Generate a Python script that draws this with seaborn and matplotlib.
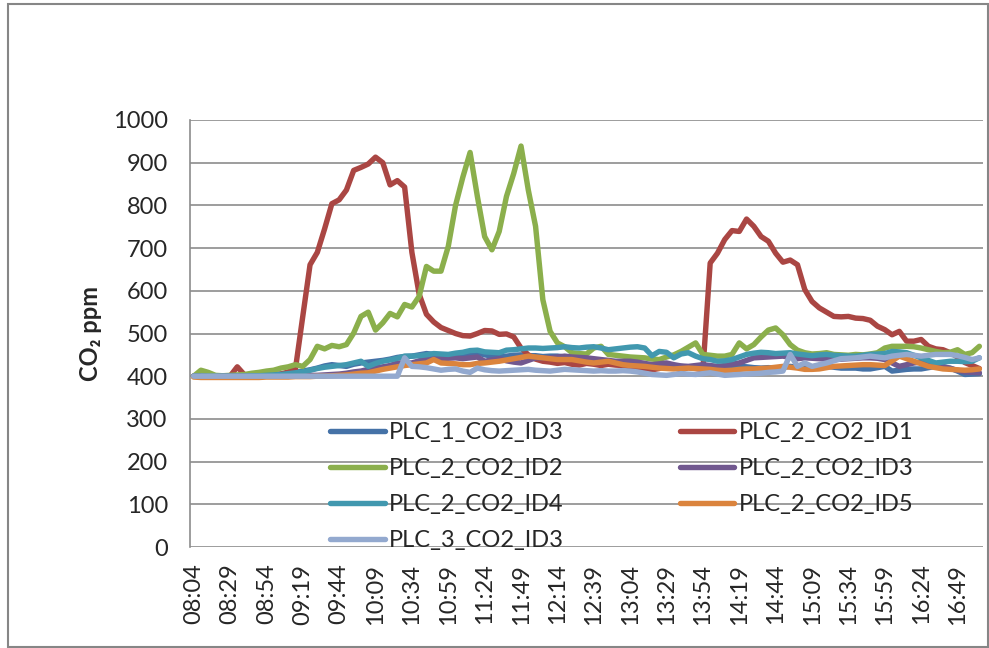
import matplotlib
matplotlib.use("Agg")
import matplotlib.pyplot as plt
from matplotlib.patches import Rectangle
import seaborn as sns
import numpy as np
import pandas as pd

# readings every 5 min, 08:04 .. 17:04
start = 8 * 60 + 4
times = ["%02d:%02d" % ((start + 5 * k) // 60, (start + 5 * k) % 60) for k in range(109)]

plc1_id3 = [400, 400, 400, 400, 400, 400, 400, 400, 401, 402, 403, 404, 405, 407, 409, 412, 415, 419, 424, 427,
            425, 423, 428, 431, 433, 435, 437, 440, 444, 446, 447, 450, 453, 451, 449, 448, 450, 451, 453, 455,
            450, 447, 446, 447, 449, 450, 448, 448, 446, 447, 447, 445, 443, 441, 439, 437, 434, 432, 431, 429,
            428, 426, 424, 423, 424, 423, 422, 423, 421, 420, 422, 420, 419, 421, 423, 423, 422, 420, 419, 420,
            419, 421, 423, 421, 419, 421, 423, 423, 421, 419, 419, 419, 417, 417, 420, 423, 412, 414, 416, 417,
            417, 420, 423, 421, 419, 412, 404, 405, 406]
plc2_id1 = [400, 399, 398, 398, 399, 400, 422, 403, 400, 401, 402, 403, 405, 410, 418, 540, 661, 690, 745, 804,
            813, 836, 882, 889, 897, 913, 900, 848, 858, 843, 690, 592, 545, 527, 514, 507, 500, 495, 494, 500,
            507, 506, 498, 499, 492, 466, 450, 440, 435, 433, 430, 432, 428, 426, 430, 428, 425, 428, 426, 425,
            422, 420, 418, 415, 418, 425, 420, 415, 420, 418, 415, 665, 688, 720, 741, 739, 768, 751, 727, 716,
            688, 667, 672, 661, 603, 575, 560, 550, 540, 539, 540, 536, 535, 531, 517, 509, 497, 505, 482, 482,
            486, 470, 464, 462, 455, 445, 432, 425, 418]
plc2_id2 = [400, 414, 409, 402, 401, 402, 403, 404, 407, 409, 412, 414, 419, 422, 427, 423, 439, 470, 464, 472,
            469, 474, 501, 540, 550, 508, 525, 547, 539, 568, 562, 587, 657, 646, 646, 704, 800, 866, 924, 821,
            727, 696, 739, 821, 875, 939, 836, 751, 579, 505, 478, 469, 455, 453, 452, 466, 470, 451, 449, 447,
            445, 444, 443, 440, 439, 445, 450, 458, 468, 478, 451, 449, 447, 447, 451, 478, 464, 474, 492, 508,
            513, 497, 474, 461, 455, 452, 453, 455, 451, 450, 449, 451, 450, 452, 455, 466, 470, 470, 470, 469,
            466, 462, 458, 455, 456, 462, 451, 455, 470]
plc2_id3 = [400, 400, 399, 399, 400, 400, 400, 400, 400, 400, 400, 400, 400, 400, 401, 401, 402, 402, 403, 404,
            405, 407, 410, 412, 416, 419, 422, 425, 431, 431, 431, 436, 443, 442, 441, 442, 443, 441, 443, 445,
            435, 438, 441, 436, 433, 431, 437, 443, 443, 443, 445, 447, 445, 444, 443, 441, 439, 437, 435, 435,
            435, 433, 430, 427, 429, 431, 427, 424, 423, 425, 427, 425, 423, 425, 428, 431, 437, 443, 444, 445,
            446, 447, 444, 441, 443, 442, 441, 440, 439, 440, 441, 442, 443, 443, 442, 439, 431, 423, 427, 431,
            433, 435, 429, 423, 418, 414, 410, 409, 408]
plc2_id4 = [400, 400, 400, 400, 400, 400, 400, 400, 401, 401, 402, 403, 404, 406, 408, 410, 414, 418, 421, 423,
            425, 427, 431, 435, 423, 430, 435, 438, 442, 447, 447, 448, 450, 453, 452, 451, 454, 456, 460, 461,
            457, 456, 455, 461, 462, 464, 466, 466, 465, 466, 467, 469, 467, 466, 468, 469, 466, 462, 464, 466,
            468, 469, 466, 448, 458, 456, 443, 452, 455, 447, 441, 439, 435, 436, 439, 445, 451, 454, 456, 455,
            453, 454, 455, 452, 450, 448, 450, 451, 449, 448, 447, 447, 449, 451, 452, 453, 458, 457, 455, 449,
            443, 437, 431, 433, 435, 435, 434, 435, 443]
plc2_id5 = [398, 397, 397, 397, 397, 397, 397, 397, 397, 397, 398, 398, 398, 398, 399, 399, 399, 400, 400, 401,
            402, 403, 405, 407, 408, 412, 416, 419, 422, 425, 427, 429, 431, 439, 431, 430, 429, 427, 427, 430,
            431, 433, 435, 438, 441, 444, 447, 445, 443, 441, 439, 439, 439, 436, 433, 431, 433, 435, 431, 427,
            425, 424, 423, 421, 419, 418, 417, 418, 419, 418, 417, 416, 414, 413, 414, 416, 417, 417, 418, 419,
            421, 423, 421, 419, 416, 416, 417, 420, 423, 424, 425, 426, 427, 427, 426, 425, 436, 447, 441, 435,
            429, 423, 420, 417, 416, 415, 414, 415, 417]
plc3_id3 = [400, 400, 400, 400, 400, 400, 400, 400, 400, 400, 400, 400, 400, 400, 400, 400, 400, 400, 400, 400,
            400, 400, 400, 400, 400, 400, 400, 400, 400, 443, 423, 422, 420, 417, 414, 416, 417, 412, 409, 419,
            415, 413, 412, 413, 414, 415, 416, 414, 413, 412, 414, 416, 415, 414, 413, 412, 413, 412, 412, 413,
            412, 410, 407, 404, 403, 402, 404, 406, 405, 404, 406, 408, 405, 402, 403, 404, 405, 406, 407, 409,
            410, 412, 451, 423, 431, 423, 427, 431, 436, 441, 442, 443, 445, 447, 445, 443, 447, 449, 451, 449,
            447, 449, 451, 451, 451, 448, 444, 439, 443]

names = ["PLC_1_CO2_ID3", "PLC_2_CO2_ID1", "PLC_2_CO2_ID2", "PLC_2_CO2_ID3",
         "PLC_2_CO2_ID4", "PLC_2_CO2_ID5", "PLC_3_CO2_ID3"]
series = [plc1_id3, plc2_id1, plc2_id2, plc2_id3, plc2_id4, plc2_id5, plc3_id3]
colors = ["#4572A7", "#AA4643", "#8BAF4C", "#71588F", "#4198AF", "#DB843D", "#93A9CF"]

sns.set_style("white")
plt.rcParams['font.family'] = ['Lato', 'DejaVu Sans']

fig = plt.figure(figsize=(9.89, 6.48), dpi=100)
ax = fig.add_axes([190 / 989, 1 - 547 / 648, 793 / 989, 427 / 648])

x = np.arange(len(times))
for name, vals, c in zip(names, series, colors):
    sns.lineplot(x=x, y=vals, color=c, lw=3.9, label=name, ax=ax, solid_capstyle='round')

ax.set_xlim(-0.5, len(times) - 0.5)
ax.set_ylim(0, 1000)
ax.set_yticks(range(0, 1001, 100))
ax.yaxis.grid(True, color="#8c8c8c", lw=1.2)
ax.xaxis.grid(False)
for s in ["top", "right", "bottom"]:
    ax.spines[s].set_visible(False)
ax.spines["left"].set_color("#8c8c8c")
ax.spines["left"].set_linewidth(1.2)

ax.set_xticks(x[::5])
ax.set_xticklabels(times[::5], rotation=90)
ax.tick_params(axis="x", length=0, pad=12, labelsize=17)
ax.tick_params(axis="y", length=4, color="#8c8c8c", pad=12, labelsize=17)

ax.set_ylabel("CO₂ ppm", fontsize=17, fontweight="bold")
ax.yaxis.set_label_coords(-0.111, 0.5)

# excel fills the legend row by row
h, l = ax.get_legend_handles_labels()
order = [0, 2, 4, 6, 1, 3, 5]
ax.legend([h[i] for i in order], [l[i] for i in order], ncol=2, frameon=False,
          loc="upper left", bbox_to_anchor=(0.165, 0.315), fontsize=17,
          handlelength=2.3, handletextpad=0.2, columnspacing=4.9, labelspacing=0.64,
          borderaxespad=0)

fig.patches.append(Rectangle((8 / 989, 1 / 648), 980 / 989, 643 / 648, transform=fig.transFigure,
                             fill=False, edgecolor="#868686", lw=1.5))

fig.savefig("out.png", dpi=100)
